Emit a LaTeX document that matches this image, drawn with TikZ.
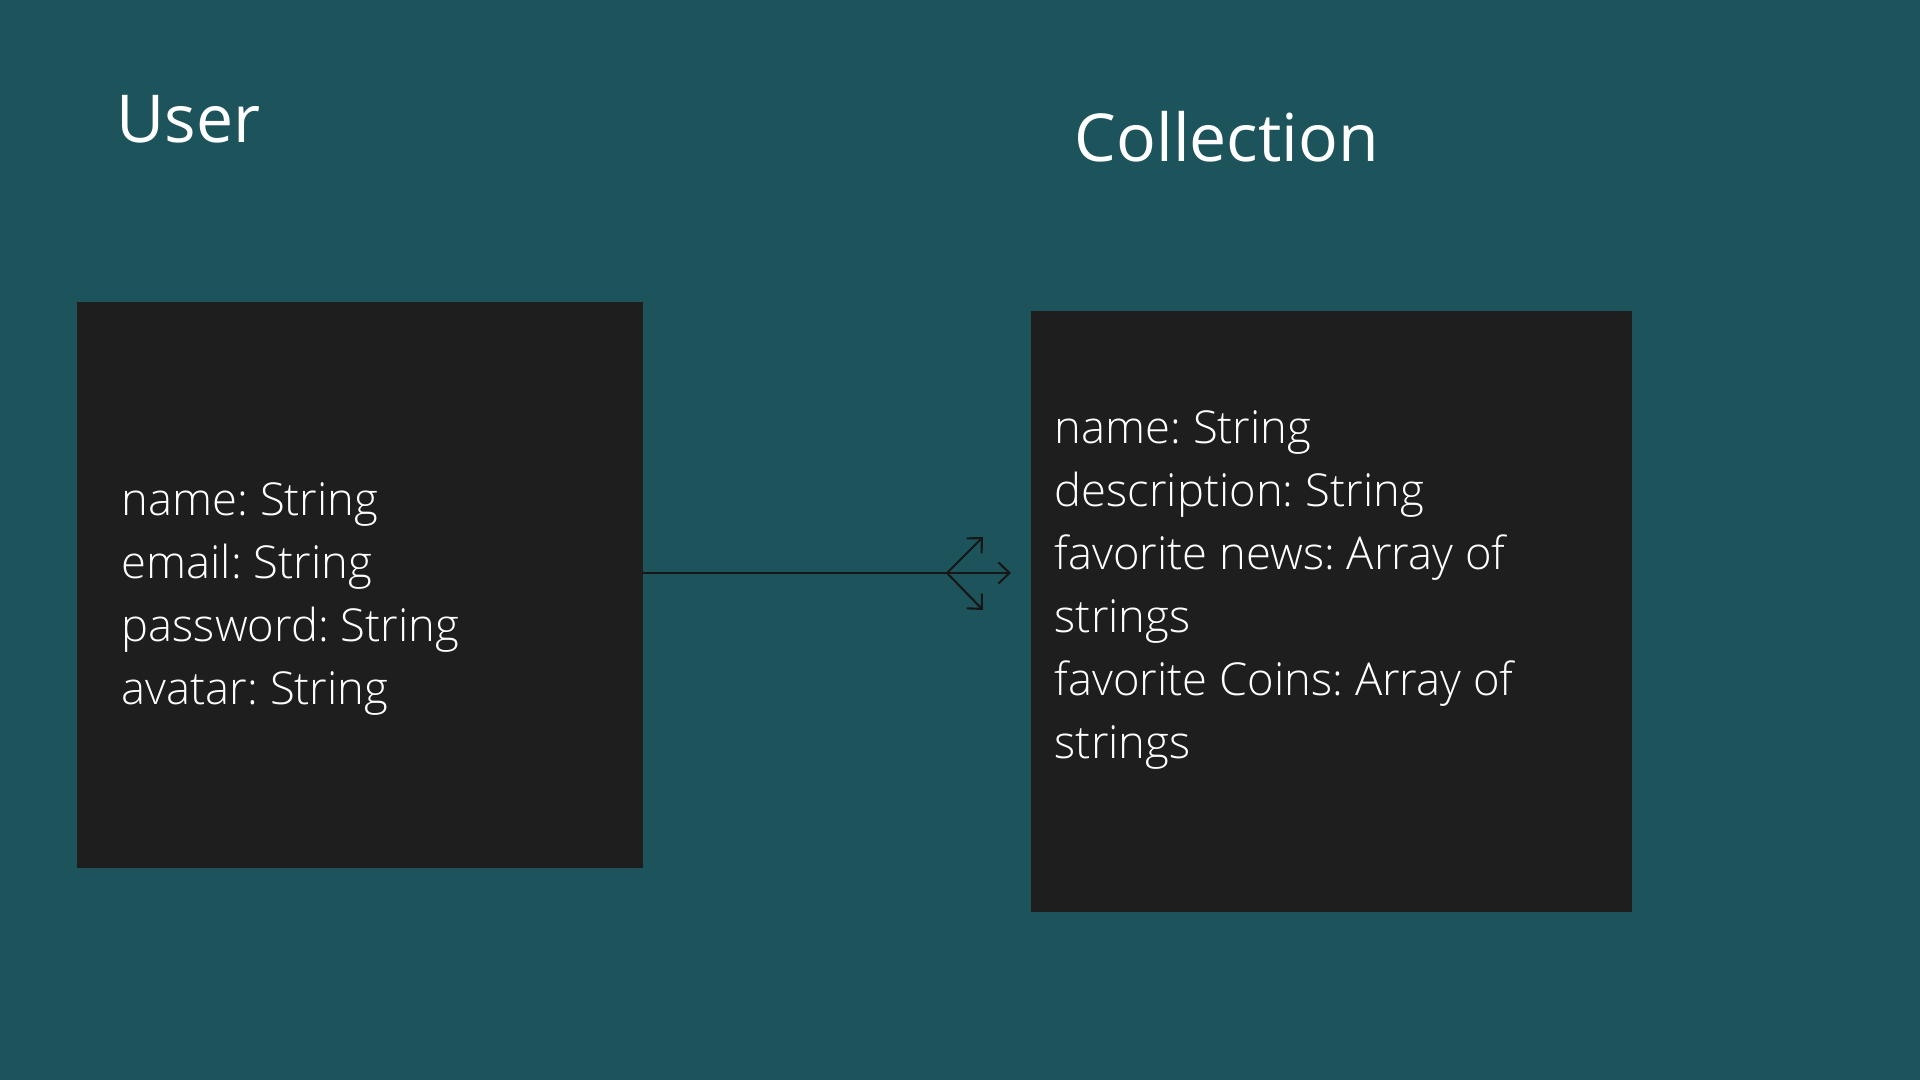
\documentclass[tikz,border=0pt]{standalone}
\usepackage{fontspec}
\setmainfont{Open Sans}[UprightFont=* Light]
\newfontfamily\titlefont{Open Sans}
\usepackage{xcolor}
\usepackage{tikz}
\usetikzlibrary{arrows.meta, positioning}
\frenchspacing

\definecolor{bgteal}{HTML}{1D545C}
\definecolor{boxdark}{HTML}{1E1E1E}
\definecolor{linkdark}{HTML}{161616}

\begin{document}
\begin{tikzpicture}[
			x=0.01cm, y=-0.01cm,
			entity/.style={rectangle, fill=boxdark, draw=none, inner sep=0pt},
			title/.style={anchor=base west, inner sep=0pt, text=white,
				font=\titlefont\fontsize{18.8}{22}\selectfont},
			fields/.style={anchor=north west, inner sep=0pt, text=white, align=left,
				font=\fontsize{12.9}{17.9}\selectfont},
			link/.style={draw=linkdark, line width=0.6pt},
			arr/.style={link, -{Straight Barb[length=1.1mm, width=2.1mm]}}
			]
			\fill[bgteal] (0,0) rectangle (1920,1080);
			
			\node[entity, minimum width=566*0.01cm, minimum height=566*0.01cm, anchor=north west] (user) at (76,301) {};
			\node[entity, minimum width=601*0.01cm, minimum height=601*0.01cm, anchor=north west] (coll) at (1030,310) {};
			
			\node[title] (usertitle) at (116,143) {User};
			\node[title] (colltitle) at (1074,162) {Collection};
			
			\node[fields] (userfields) at (121,482) {name: String \\ email: String \\ password: String \\ avatar: String};
			\node[fields] (collfields) at (1054,410) {name: String \\ description: String \\ favorite news: Array of \\ strings \\ favorite Coins: Array of \\ strings};
			
			\coordinate (fork) at (947,573);
			\coordinate (tipup) at (983,537);
			\coordinate (tipmid) at (1011,573);
			\coordinate (tipdown) at (983,610);
			
			\draw[link] (user.east |- fork) -- (fork);
			\draw[arr] (fork) -- (tipup);
			\draw[arr] (fork) -- (tipmid);
			\draw[arr] (fork) -- (tipdown);
		\end{tikzpicture}
\end{document}
